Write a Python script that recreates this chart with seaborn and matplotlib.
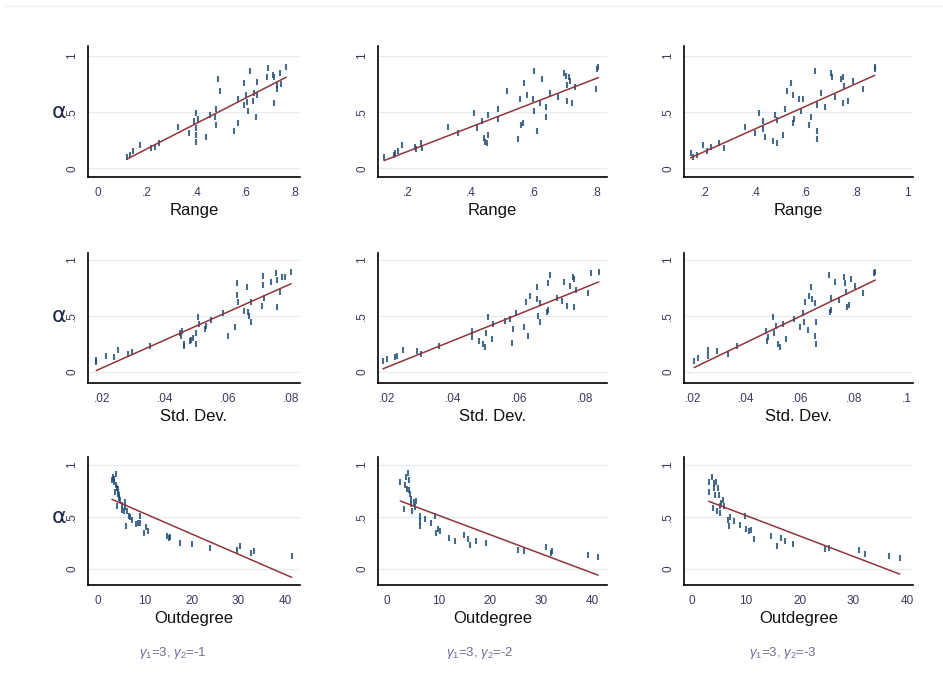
import matplotlib
matplotlib.use("Agg")
import matplotlib.pyplot as plt
import matplotlib.ticker as mticker
import pandas as pd
import seaborn as sns

# columns: gamma_2 = -1, -2, -3 ; rows: Range, Std. Dev., Outdegree
range_x_1 = [0.118, 0.131, 0.141, 0.172, 0.215, 0.232, 0.246, 0.327, 0.368, 0.391, 0.399, 0.408,
             0.399, 0.399, 0.399, 0.439, 0.455, 0.476, 0.480, 0.480, 0.489, 0.496, 0.553, 0.570,
             0.570, 0.591, 0.593, 0.604, 0.601, 0.611, 0.618, 0.628, 0.634, 0.645, 0.642, 0.647,
             0.685, 0.689, 0.709, 0.715, 0.716, 0.726, 0.726, 0.739, 0.742, 0.764]
range_y_1 = [0.098, 0.118, 0.154, 0.207, 0.178, 0.186, 0.222, 0.364, 0.317, 0.420, 0.488, 0.435,
             0.355, 0.296, 0.237, 0.281, 0.473, 0.459, 0.385, 0.524, 0.793, 0.686, 0.334, 0.405,
             0.612, 0.562, 0.754, 0.592, 0.651, 0.512, 0.864, 0.601, 0.666, 0.769, 0.459, 0.651,
             0.814, 0.888, 0.828, 0.814, 0.583, 0.701, 0.740, 0.843, 0.749, 0.902]

range_x_2 = [0.124, 0.155, 0.160, 0.168, 0.181, 0.224, 0.227, 0.242, 0.246, 0.327, 0.359, 0.410,
             0.418, 0.436, 0.443, 0.445, 0.450, 0.455, 0.455, 0.487, 0.487, 0.513, 0.550, 0.556,
             0.559, 0.564, 0.570, 0.577, 0.596, 0.600, 0.600, 0.609, 0.619, 0.625, 0.639, 0.639,
             0.651, 0.678, 0.696, 0.701, 0.704, 0.704, 0.710, 0.715, 0.722, 0.731, 0.798, 0.800,
             0.805]
range_y_2 = [0.098, 0.118, 0.133, 0.154, 0.207, 0.186, 0.169, 0.222, 0.178, 0.364, 0.317, 0.494,
             0.355, 0.420, 0.266, 0.237, 0.222, 0.296, 0.473, 0.524, 0.435, 0.686, 0.257, 0.612,
             0.385, 0.405, 0.754, 0.651, 0.612, 0.864, 0.512, 0.334, 0.577, 0.793, 0.541, 0.453,
             0.672, 0.636, 0.843, 0.820, 0.740, 0.598, 0.808, 0.778, 0.583, 0.725, 0.701, 0.879,
             0.902]

range_x_3 = [0.143, 0.151, 0.167, 0.191, 0.207, 0.222, 0.256, 0.277, 0.359, 0.398, 0.413, 0.429,
             0.429, 0.437, 0.468, 0.477, 0.484, 0.484, 0.508, 0.516, 0.524, 0.540, 0.547, 0.547,
             0.554, 0.574, 0.581, 0.587, 0.613, 0.619, 0.634, 0.643, 0.643, 0.643, 0.659, 0.676,
             0.700, 0.705, 0.715, 0.739, 0.745, 0.748, 0.751, 0.768, 0.786, 0.825, 0.872, 0.872]
range_y_3 = [0.133, 0.104, 0.118, 0.207, 0.154, 0.186, 0.222, 0.178, 0.364, 0.311, 0.488, 0.420,
             0.346, 0.275, 0.246, 0.473, 0.222, 0.429, 0.296, 0.524, 0.686, 0.760, 0.651, 0.399,
             0.435, 0.612, 0.509, 0.612, 0.385, 0.453, 0.864, 0.334, 0.260, 0.562, 0.672, 0.547,
             0.843, 0.814, 0.636, 0.793, 0.583, 0.814, 0.731, 0.598, 0.775, 0.704, 0.902, 0.879]

sd_x_1 = [0.0182, 0.0182, 0.0214, 0.0237, 0.0250, 0.0284, 0.0294, 0.0352, 0.0447, 0.0452, 0.0455,
          0.0460, 0.0460, 0.0479, 0.0484, 0.0488, 0.0499, 0.0499, 0.0504, 0.0509, 0.0527, 0.0530,
          0.0546, 0.0585, 0.0599, 0.0623, 0.0628, 0.0628, 0.0630, 0.0649, 0.0659, 0.0662, 0.0667,
          0.0672, 0.0672, 0.0706, 0.0711, 0.0711, 0.0714, 0.0735, 0.0751, 0.0756, 0.0756, 0.0766,
          0.0770, 0.0780, 0.0800]
sd_y_1 = [0.110, 0.092, 0.145, 0.131, 0.199, 0.163, 0.178, 0.234, 0.347, 0.323, 0.362, 0.228,
          0.252, 0.273, 0.288, 0.303, 0.252, 0.347, 0.487, 0.430, 0.383, 0.412, 0.460, 0.525,
          0.326, 0.398, 0.792, 0.688, 0.629, 0.546, 0.757, 0.540, 0.496, 0.451, 0.629, 0.591,
          0.858, 0.777, 0.659, 0.807, 0.881, 0.822, 0.576, 0.718, 0.846, 0.846, 0.896]

sd_x_2 = [0.0188, 0.0200, 0.0223, 0.0231, 0.0249, 0.0292, 0.0304, 0.0358, 0.0457, 0.0457, 0.0480,
          0.0492, 0.0498, 0.0500, 0.0505, 0.0517, 0.0522, 0.0556, 0.0571, 0.0579, 0.0583, 0.0592,
          0.0615, 0.0622, 0.0627, 0.0634, 0.0653, 0.0653, 0.0658, 0.0663, 0.0663, 0.0683, 0.0688,
          0.0688, 0.0693, 0.0714, 0.0731, 0.0736, 0.0744, 0.0754, 0.0762, 0.0766, 0.0767, 0.0772,
          0.0810, 0.0817, 0.0841]
sd_y_2 = [0.095, 0.116, 0.134, 0.145, 0.199, 0.184, 0.163, 0.234, 0.362, 0.312, 0.273, 0.252,
          0.220, 0.347, 0.487, 0.294, 0.430, 0.457, 0.475, 0.258, 0.383, 0.525, 0.398, 0.629,
          0.326, 0.682, 0.757, 0.650, 0.501, 0.614, 0.451, 0.540, 0.555, 0.792, 0.866, 0.665,
          0.638, 0.807, 0.593, 0.772, 0.846, 0.828, 0.579, 0.733, 0.703, 0.881, 0.896]

sd_x_3 = [0.0204, 0.0219, 0.0256, 0.0256, 0.0288, 0.0331, 0.0363, 0.0473, 0.0475, 0.0481, 0.0498,
          0.0504, 0.0510, 0.0516, 0.0525, 0.0535, 0.0548, 0.0579, 0.0600, 0.0610, 0.0615, 0.0618,
          0.0631, 0.0635, 0.0640, 0.0644, 0.0654, 0.0656, 0.0660, 0.0660, 0.0709, 0.0710, 0.0715,
          0.0716, 0.0731, 0.0744, 0.0763, 0.0766, 0.0773, 0.0775, 0.0781, 0.0790, 0.0804, 0.0835,
          0.0875, 0.0881]
sd_y_3 = [0.095, 0.125, 0.199, 0.145, 0.184, 0.163, 0.234, 0.362, 0.273, 0.312, 0.487, 0.347,
          0.407, 0.252, 0.220, 0.430, 0.294, 0.472, 0.398, 0.525, 0.451, 0.629, 0.377, 0.682,
          0.757, 0.650, 0.614, 0.323, 0.451, 0.252, 0.866, 0.540, 0.555, 0.665, 0.807, 0.644,
          0.846, 0.792, 0.718, 0.579, 0.599, 0.828, 0.768, 0.703, 0.881, 0.896]

out_x_1 = [2.99, 3.20, 3.35, 3.49, 3.70, 3.84, 3.91, 4.06, 4.20, 4.20, 4.06, 4.41, 4.41, 4.77, 5.12,
           5.20, 5.48, 5.70, 5.84, 6.05, 6.19, 6.55, 6.90, 7.26, 8.19, 8.47, 8.90, 9.04, 9.75,
           10.32, 10.60, 14.73, 15.09, 15.44, 17.58, 20.07, 23.99, 29.68, 30.39, 32.67, 33.38,
           41.42]
out_y_1 = [0.856, 0.882, 0.863, 0.840, 0.744, 0.808, 0.911, 0.783, 0.767, 0.720, 0.601, 0.712,
           0.680, 0.665, 0.617, 0.570, 0.559, 0.600, 0.649, 0.415, 0.553, 0.511, 0.498, 0.473,
           0.435, 0.441, 0.511, 0.447, 0.345, 0.403, 0.361, 0.313, 0.297, 0.304, 0.249, 0.243,
           0.201, 0.185, 0.224, 0.153, 0.169, 0.128]

out_x_2 = [2.59, 3.37, 3.56, 3.76, 3.89, 4.08, 4.21, 4.34, 4.54, 4.67, 4.73, 4.86, 5.31, 5.51, 5.70,
           6.48, 6.48, 6.48, 7.32, 8.55, 9.27, 9.59, 9.92, 10.24, 11.99, 13.16, 15.10, 15.88,
           16.20, 17.37, 19.31, 25.60, 26.77, 30.98, 31.89, 32.21, 39.21, 41.15]
out_y_2 = [0.837, 0.577, 0.805, 0.886, 0.772, 0.919, 0.756, 0.853, 0.723, 0.674, 0.625, 0.560,
           0.642, 0.593, 0.651, 0.511, 0.414, 0.463, 0.479, 0.446, 0.511, 0.349, 0.381, 0.365,
           0.300, 0.267, 0.326, 0.293, 0.228, 0.267, 0.251, 0.186, 0.169, 0.208, 0.153, 0.176,
           0.130, 0.111]

out_x_3 = [3.10, 3.10, 3.72, 3.91, 4.03, 4.16, 4.34, 4.53, 4.65, 4.84, 4.96, 5.15, 5.27, 5.46, 5.77,
           6.02, 6.64, 6.82, 7.13, 7.88, 9.00, 9.92, 10.11, 10.54, 10.98, 11.47, 14.70, 15.81,
           16.56, 17.36, 18.79, 24.81, 25.43, 31.01, 32.25, 36.59, 38.64]
out_y_3 = [0.840, 0.744, 0.888, 0.585, 0.824, 0.776, 0.712, 0.840, 0.553, 0.776, 0.712, 0.601,
           0.537, 0.633, 0.665, 0.601, 0.473, 0.415, 0.498, 0.457, 0.425, 0.505, 0.383, 0.361,
           0.377, 0.288, 0.313, 0.217, 0.297, 0.265, 0.243, 0.192, 0.201, 0.185, 0.147, 0.128,
           0.105]

row_labels = ["Range", "Std. Dev.", "Outdegree"]
captions = [r"$\gamma_1$=3, $\gamma_2$=-1", r"$\gamma_1$=3, $\gamma_2$=-2", r"$\gamma_1$=3, $\gamma_2$=-3"]
panels = [
    [(range_x_1, range_y_1), (range_x_2, range_y_2), (range_x_3, range_y_3)],
    [(sd_x_1, sd_y_1), (sd_x_2, sd_y_2), (sd_x_3, sd_y_3)],
    [(out_x_1, out_y_1), (out_x_2, out_y_2), (out_x_3, out_y_3)],
]
x_ticks = [
    [[0, .2, .4, .6, .8], [.2, .4, .6, .8], [.2, .4, .6, .8, 1]],
    [[.02, .04, .06, .08], [.02, .04, .06, .08], [.02, .04, .06, .08, .1]],
    [[0, 10, 20, 30, 40]] * 3,
]
x_lims = [
    [(-0.04, 0.82), (0.105, 0.832), (0.117, 1.024)],
    [(0.0156, 0.0828), (0.0173, 0.0866), (0.0166, 0.1022)],
    [(-2.14, 43.2), (-1.76, 42.9), (-1.5, 41.1)],
]
y_lims = [(-0.077, 1.086), (-0.098, 1.0625), (-0.154, 1.077)]

W, H = 943, 693
col_px = [(88, 300), (378, 607), (684, 913)]
row_px = [(46, 177), (253, 383), (457, 585)]

NAVY = "#1a476f"
MAROON = "#90353b"
TICK_COL = "#3a3a5c"


def stata_fmt(v, pos=None):
    s = f"{round(v, 6):g}"
    if s.startswith("0."):
        s = s[1:]
    elif s.startswith("-0."):
        s = "-" + s[2:]
    return s


sns.set_style("white")
plt.rcParams["font.family"] = ["Liberation Sans", "DejaVu Sans"]
plt.rcParams["mathtext.fontset"] = "custom"
plt.rcParams["mathtext.rm"] = "Liberation Sans"
plt.rcParams["mathtext.it"] = "Liberation Sans:italic"

fig = plt.figure(figsize=(W / 100, H / 100), dpi=100)
fig.add_artist(plt.Line2D([3 / W, 1], [1 - 6 / H, 1 - 6 / H], color="#eef3f3", lw=1))

for r in range(3):
    top, bot = row_px[r]
    for c in range(3):
        left, right = col_px[c]
        ax = fig.add_axes([left / W, 1 - bot / H, (right - left) / W, (bot - top) / H])
        xs, ys = panels[r][c]
        dane = pd.DataFrame({"x": xs, "y": ys})
        for g in [0, 0.5, 1]:
            ax.axhline(g, color="#e4edf0", lw=1, zorder=0)
        sns.regplot(
            x="x", y="y", data=dane, ci=None, ax=ax,
            marker="|",
            scatter_kws={"s": 13, "linewidths": 1.5, "color": NAVY},
            line_kws={"color": MAROON, "linewidth": 1.1},
        )
        ax.set_xlim(*x_lims[r][c])
        ax.set_ylim(*y_lims[r])
        ax.set_xticks(x_ticks[r][c])
        ax.set_yticks([0, 0.5, 1])
        ax.xaxis.set_major_formatter(mticker.FuncFormatter(stata_fmt))
        ax.yaxis.set_major_formatter(mticker.FuncFormatter(stata_fmt))
        ax.tick_params(axis="both", direction="out", length=4, width=1, color="black",
                       labelsize=8.5, labelcolor=TICK_COL, pad=3)
        ax.tick_params(axis="y", labelrotation=90)
        for lab in ax.get_yticklabels():
            lab.set_va("center")
        for side in ["top", "right"]:
            ax.spines[side].set_visible(False)
        for side in ["left", "bottom"]:
            ax.spines[side].set_color("black")
            ax.spines[side].set_linewidth(1.2)
        ax.set_xlabel(row_labels[r], fontsize=12, color="#111111", labelpad=3)
        ax.set_ylabel("")
        if c == 0:
            ymid = top + (bot - top) * (y_lims[r][1] - 0.5) / (y_lims[r][1] - y_lims[r][0])
            fig.text(59 / W, 1 - ymid / H, "α", fontsize=16, color="#1f2a4a",
                     ha="center", va="center", family=["DejaVu Sans"])

cap_x = [173, 480, 783]
for c in range(3):
    fig.text(cap_x[c] / W, 1 - 653 / H, captions[c], fontsize=9.5, color="#6e6e96",
             ha="center", va="center")

fig.savefig("out.png", dpi=100)
